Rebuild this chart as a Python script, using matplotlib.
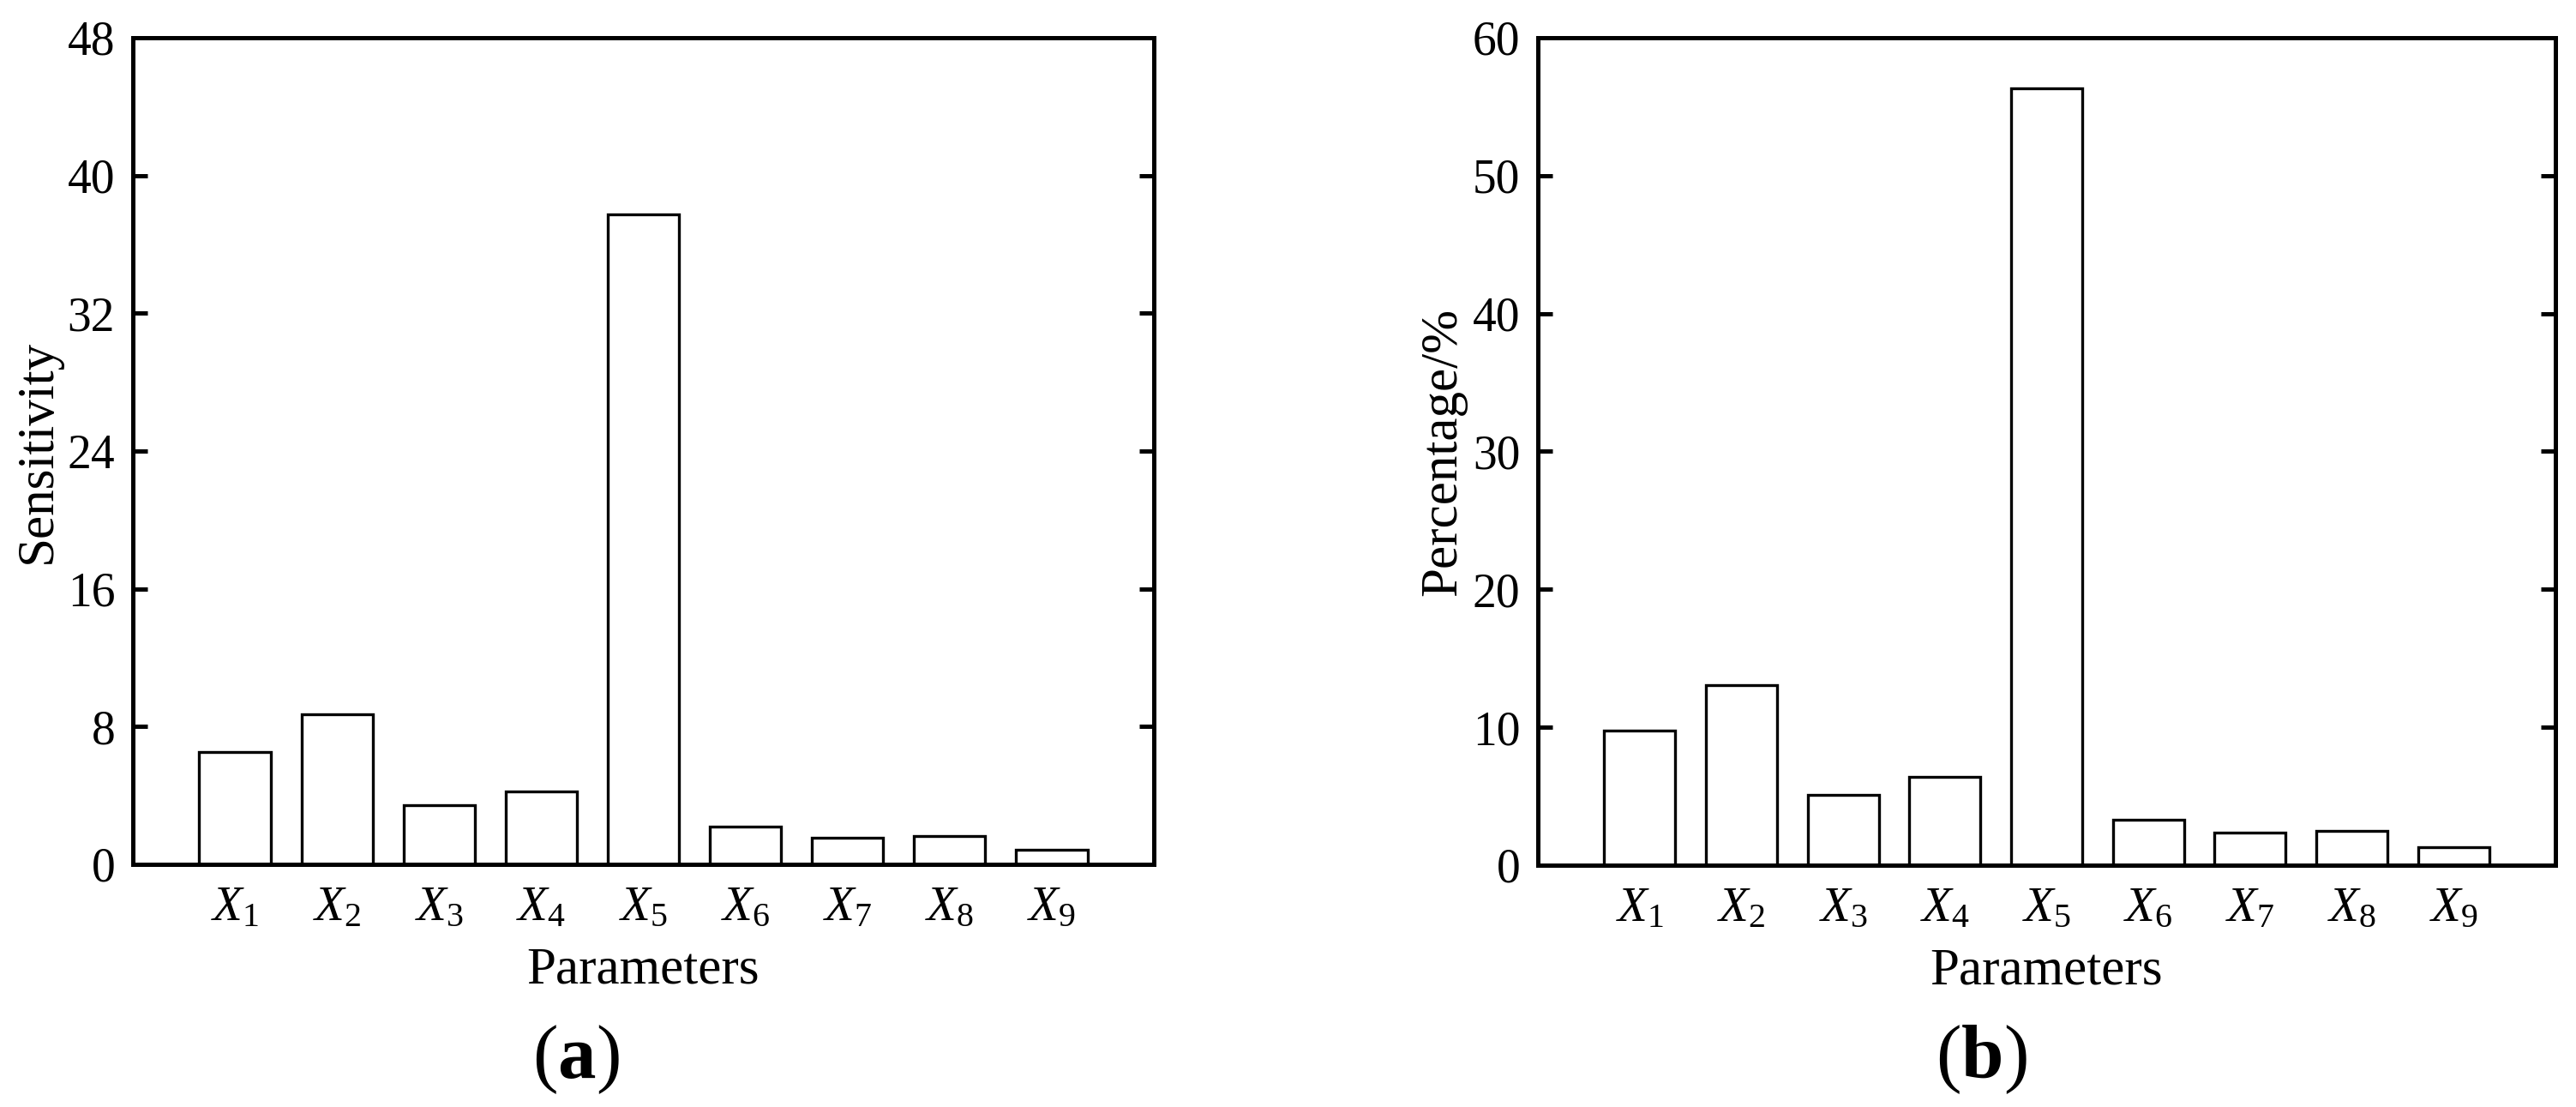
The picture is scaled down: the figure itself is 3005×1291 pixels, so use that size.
import matplotlib
matplotlib.use("Agg")
import matplotlib.pyplot as plt

# values
params = ["X1", "X2", "X3", "X4", "X5", "X6", "X7", "X8", "X9"]
tick_labels = [r"$X_{\mathrm{%d}}$" % (i + 1) for i in range(len(params))]
sensitivity = [6.52, 8.69, 3.44, 4.22, 37.75, 2.21, 1.52, 1.64, 0.86]
percentage = [9.76, 13.08, 5.11, 6.39, 56.36, 3.27, 2.35, 2.50, 1.33]
sens_ticks = [0, 8, 16, 24, 32, 40, 48]
perc_ticks = [0, 10, 20, 30, 40, 50, 60]

plt.rcParams["font.family"] = ["Liberation Serif", "DejaVu Serif"]
plt.rcParams["mathtext.fontset"] = "custom"
plt.rcParams["mathtext.rm"] = "Liberation Serif"
plt.rcParams["mathtext.it"] = "Liberation Serif:italic"
plt.rcParams["mathtext.bf"] = "Liberation Serif:bold"

fig = plt.figure(figsize=(30.05, 12.91), dpi=100)
ax1 = fig.add_axes([0.05158, 0.21921, 0.39634, 0.74671])
ax2 = fig.add_axes([0.59700, 0.21844, 0.39501, 0.74750])


def draw_panel(ax, values, yticks, ylabel):
    pos = list(range(1, len(values) + 1))
    ax.bar(pos, values, width=0.7, facecolor="white", edgecolor="black",
           linewidth=2.4)
    ax.set_xlim(0, 10)
    ax.set_ylim(yticks[0], yticks[-1])
    ax.set_xticks(pos)
    ax.set_xticklabels(tick_labels)
    ax.set_yticks(yticks)
    for sp in ax.spines.values():
        sp.set_linewidth(3.6)
    ax.tick_params(axis="y", direction="in", length=12, width=3.6,
                   left=True, right=True, labelsize=40, pad=15)
    ax.tick_params(axis="x", length=0, labelsize=41, pad=18)
    ax.set_ylabel(ylabel, fontsize=44)
    ax.yaxis.set_label_coords(-0.07, 0.5)
    ax.set_xlabel("Parameters", fontsize=44)
    ax.xaxis.set_label_coords(0.5, -0.1)


draw_panel(ax1, sensitivity, sens_ticks, "Sensitivity")
draw_panel(ax2, percentage, perc_ticks, "Percentage/%")

fig.text(672 / 3005, 1 - 1236 / 1291, r"($\mathbf{a}$)", fontsize=64,
         ha="center", va="center")
fig.text(2311 / 3005, 1 - 1236 / 1291, r"($\mathbf{b}$)", fontsize=64,
         ha="center", va="center")

fig.savefig("out.png", dpi=100)
